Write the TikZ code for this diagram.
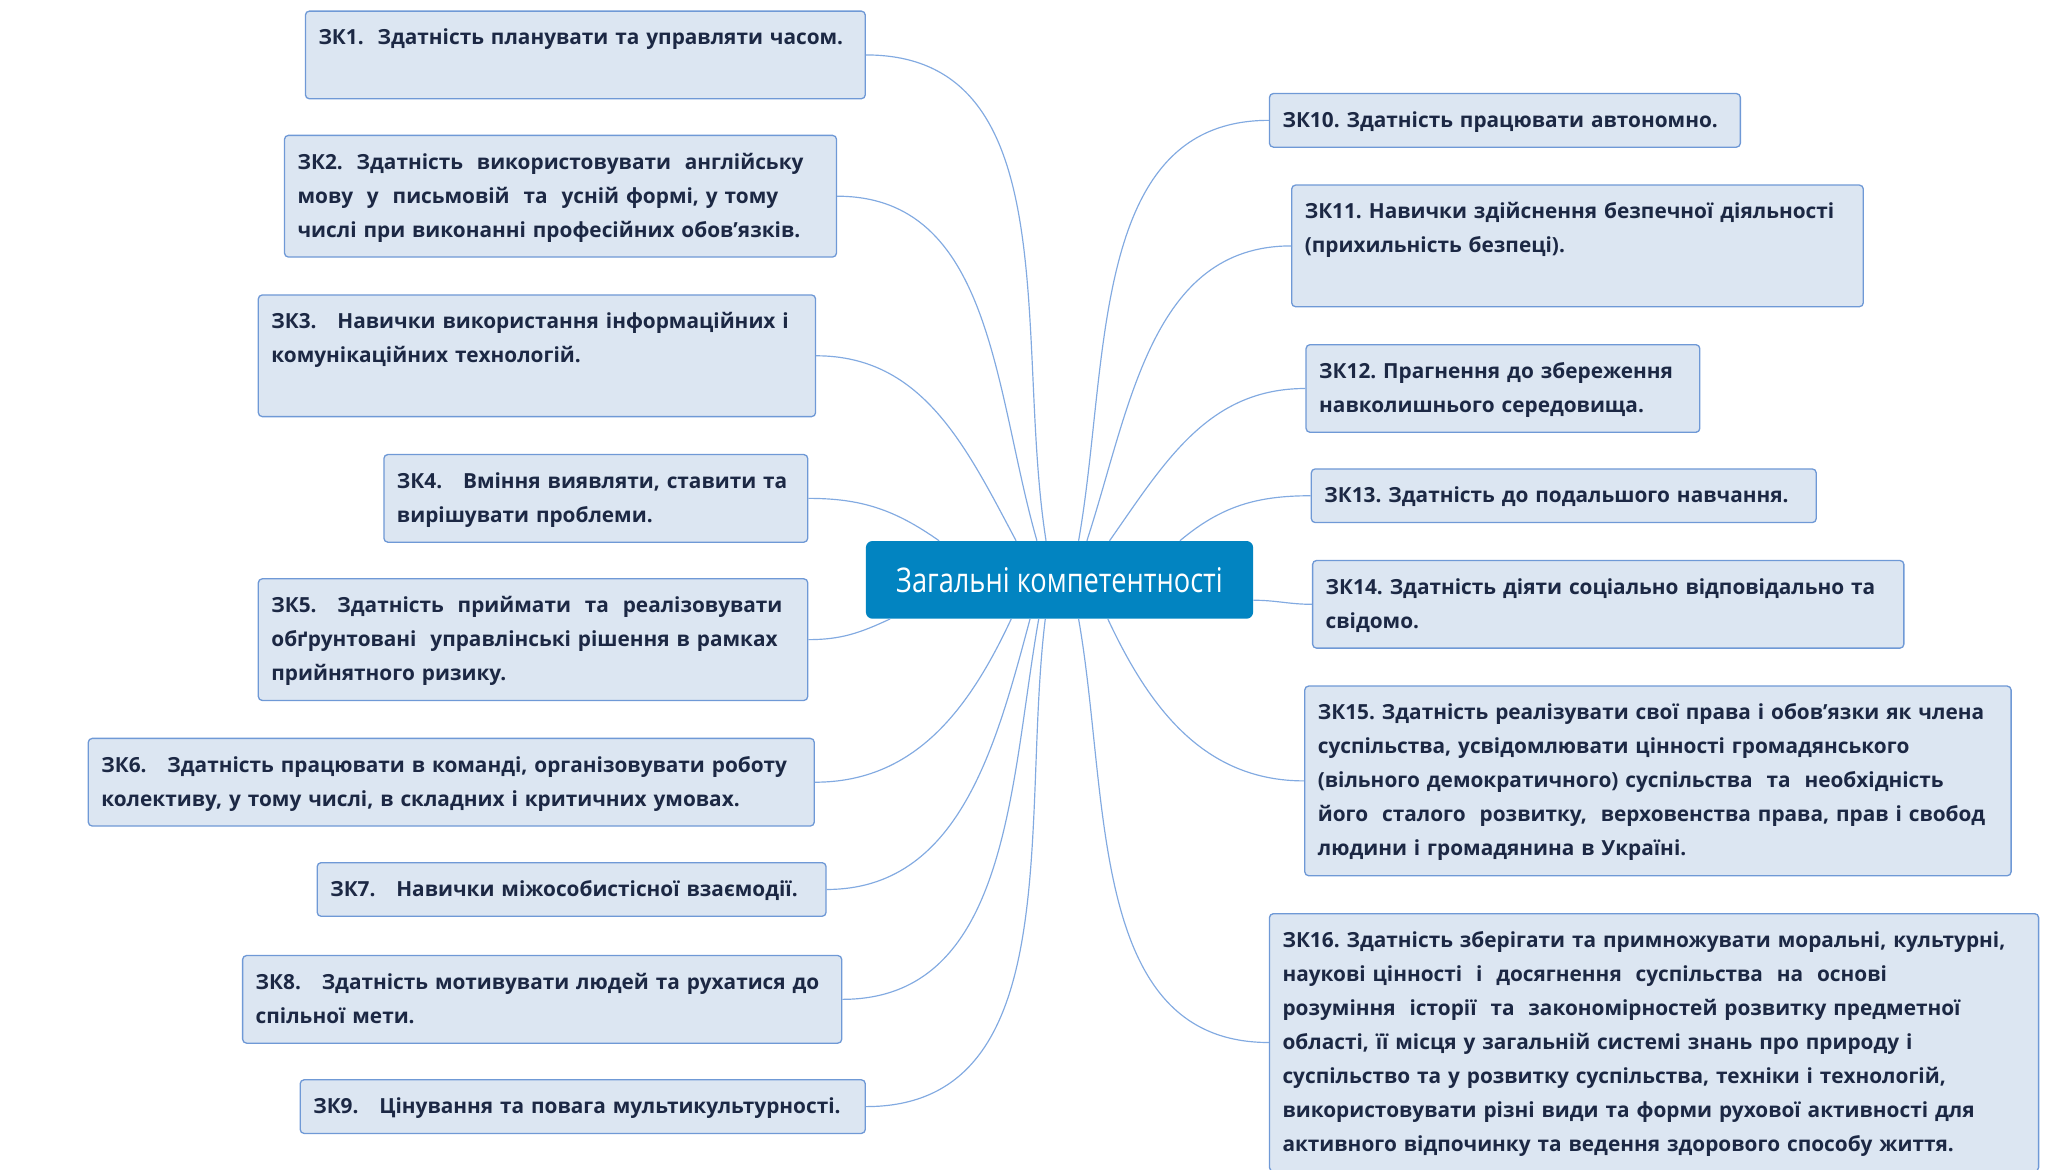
\documentclass[tikz,border=0pt]{standalone}
\usepackage{fontspec}
\setmainfont{Open Sans}
\newfontfamily\hubfont[FakeStretch=0.8]{Open Sans}
\usepackage{tikz}
\usetikzlibrary{positioning}
\frenchspacing

\definecolor{boxfill}{RGB}{220,230,242}
\definecolor{boxline}{RGB}{111,153,214}
\definecolor{boxtext}{RGB}{28,40,68}
\definecolor{hubfill}{RGB}{2,132,193}
\definecolor{linkcol}{RGB}{130,170,225}

\tikzset{zk/.style = {draw=boxline, fill=boxfill, line width=1pt, rounded corners=3pt,
                      text=boxtext, font=\bfseries\fontsize{15.9}{26}\selectfont,
                      align=left, anchor=north west, inner xsep=10pt, inner ysep=7.5pt,
                      execute at begin node=\strut, execute at end node=\strut},
         hub/.style = {fill=hubfill, rounded corners=5pt, text=white,
                       minimum width=296pt, minimum height=59.4pt,
                       font=\hubfont\fontsize{26}{30}\selectfont},
         link/.style = {draw=linkcol, line width=0.9pt}}

\begin{document}
\begin{tikzpicture}[x=1pt, y=-1pt]
    \useasboundingbox (0,0) rectangle (1568,894);

    \node [hub] (hub) at (810,443.3) {Загальні компетентності};

    % left side
    \node [zk, text width=408pt] (zk1) at (233,8) {ЗК1.~ Здатність планувати та управляти часом.\\ \mbox{}};
    \node [zk, text width=402pt] (zk2) at (217,103) {ЗК2.~ Здатність~ використовувати~ англійську\\ мову~ у~ письмовій~ та~ усній формі, у тому\\ числі при виконанні професійних обов’язків.};
    \node [zk, text width=406pt] (zk3) at (197,225) {ЗК3.~~ Навички використання інформаційних і\\ комунікаційних технологій.\\ \mbox{}};
    \node [zk, text width=304pt] (zk4) at (293,347) {ЗК4.~~ Вміння виявляти, ставити та\\ вирішувати проблеми.};
    \node [zk, text width=400pt] (zk5) at (197,442) {ЗК5.~~ Здатність~ приймати~ та~ реалізовувати\\ обґрунтовані~ управлінські рішення в рамках\\ прийнятного ризику.};
    \node [zk, text width=535pt] (zk6) at (67,564) {ЗК6.~~ Здатність працювати в команді, організовувати роботу\\ колективу, у тому числі, в складних і критичних умовах.};
    \node [zk, text width=369pt] (zk7) at (242,659) {ЗК7.~~ Навички міжособистісної взаємодії.};
    \node [zk, text width=438pt] (zk8) at (185,730) {ЗК8.~~ Здатність мотивувати людей та рухатися до\\ спільної мети.};
    \node [zk, text width=412pt] (zk9) at (229,825) {ЗК9.~~ Цінування та повага мультикультурності.};

    % right side
    \node [zk, text width=340pt] (zk10) at (970,71) {ЗК10. Здатність працювати автономно.};
    \node [zk, text width=417pt] (zk11) at (987,141) {ЗК11. Навички здійснення безпечної діяльності\\ (прихильність безпеці).\\ \mbox{}};
    \node [zk, text width=281pt] (zk12) at (998,263) {ЗК12. Прагнення до збереження\\ навколишнього середовища.};
    \node [zk, text width=366pt] (zk13) at (1002,358) {ЗК13. Здатність до подальшого навчання.};
    \node [zk, text width=432pt] (zk14) at (1003,428) {ЗК14. Здатність діяти соціально відповідально та\\ свідомо.};
    \node [zk, text width=520pt] (zk15) at (997,524) {ЗК15. Здатність реалізувати свої права і обов’язки як члена\\ суспільства, усвідомлювати цінності громадянського\\ (вільного демократичного) суспільства~ та~ необхідність\\ його~ сталого~ розвитку,~ верховенства права, прав і свобод\\ людини і громадянина в Україні.};
    \node [zk, text width=568pt] (zk16) at (970,698) {ЗК16. Здатність зберігати та примножувати моральні, культурні,\\ наукові цінності~ і~ досягнення~ суспільства~ на~ основі\\ розуміння~ історії~ та~ закономірностей розвитку предметної\\ області, її місця у загальній системі знань про природу і\\ суспільство та у розвитку суспільства, техніки і технологій,\\ використовувати різні види та форми рухової активності для\\ активного відпочинку та ведення здорового способу життя.};

    \draw [link] (zk1.east) to[out=0, in=99] (hub.109);
    \draw [link] (zk2.east) to[out=0, in=106] (hub.120);
    \draw [link] (zk3.east) to[out=0, in=118] (hub.138);
    \draw [link] (zk4.east) to[out=0, in=145] (hub.162);
    \draw [link] (zk5.east) to[out=0, in=205] (hub.193);
    \draw [link] (zk6.east) to[out=0, in=245] (hub.219);
    \draw [link] (zk7.east) to[out=0, in=255] (hub.233);
    \draw [link] (zk8.east) to[out=0, in=260] (hub.242);
    \draw [link] (zk9.east) to[out=0, in=263] (hub.250);

    \draw [link] (hub.64) to[out=80, in=180] (zk10.west);
    \draw [link] (hub.55) to[out=72, in=180] (zk11.west);
    \draw [link] (hub.38) to[out=55, in=180] (zk12.west);
    \draw [link] (hub.18) to[out=40, in=180] (zk13.west);
    \draw [link] (hub.354) to[out=0, in=180] (zk14.west);
    \draw [link] (hub.321) to[out=295, in=180] (zk15.west);
    \draw [link] (hub.296) to[out=280, in=180] (zk16.west);
  \end{tikzpicture}
\end{document}
